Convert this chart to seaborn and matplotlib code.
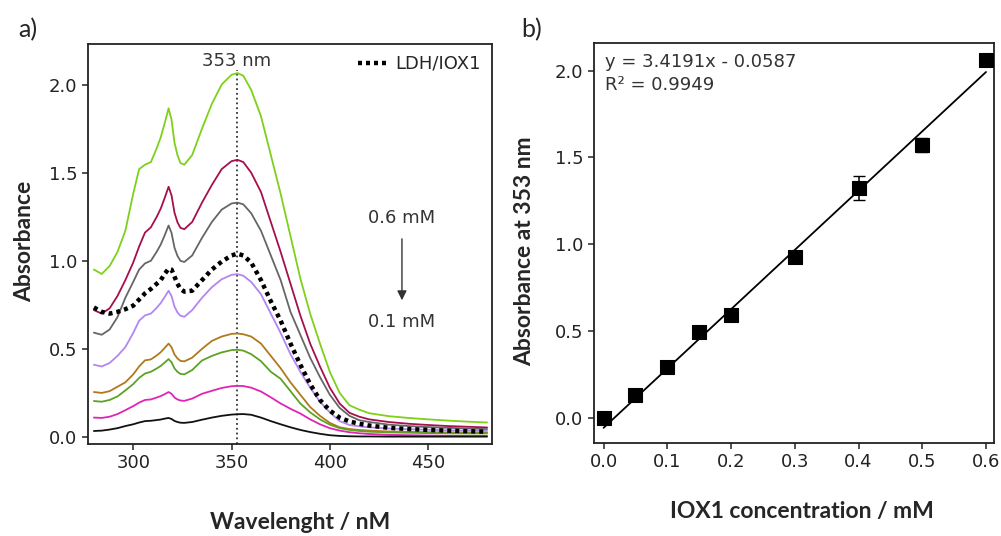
import numpy as np
import seaborn as sns
import matplotlib.pyplot as plt

sns.set_style("ticks")
plt.rcParams['font.family'] = ['DejaVu Sans']

# Spectra data (a)
wavelength = [280, 284, 288, 292, 296, 300, 303, 306, 309,
              312, 314, 316, 318, 319.5, 321, 322.5, 324, 326,
              330, 335, 340, 345, 350, 353, 356, 360, 365, 370, 375, 380, 385, 390, 395,
              400, 405, 410, 415, 420, 430, 440, 450, 460, 470, 480]

abs_060 = [0.95, 0.925, 0.97, 1.05, 1.17, 1.38, 1.52, 1.545, 1.56,
           1.64, 1.70, 1.78, 1.865, 1.80, 1.67, 1.60, 1.555, 1.545,
           1.60, 1.75, 1.89, 2.00, 2.055, 2.065, 2.05, 1.97, 1.82, 1.60, 1.38, 1.14, 0.90, 0.70, 0.53,
           0.37, 0.25, 0.18, 0.155, 0.135, 0.118, 0.108, 0.10, 0.093, 0.087, 0.082]
abs_050 = [0.72, 0.70, 0.73, 0.80, 0.89, 0.99, 1.08, 1.16, 1.19,
           1.25, 1.296, 1.356, 1.42, 1.371, 1.273, 1.219, 1.187, 1.179,
           1.22, 1.33, 1.43, 1.52, 1.565, 1.573, 1.56, 1.50, 1.39, 1.22, 1.05, 0.87, 0.69, 0.53, 0.40,
           0.28, 0.19, 0.137, 0.115, 0.10, 0.085, 0.075, 0.068, 0.062, 0.058, 0.054]
abs_040 = [0.592, 0.58, 0.61, 0.68, 0.79, 0.88, 0.95, 0.985, 1.00,
           1.052, 1.092, 1.144, 1.20, 1.158, 1.074, 1.028, 1.0, 0.993,
           1.03, 1.13, 1.22, 1.29, 1.325, 1.33, 1.32, 1.27, 1.17, 1.03, 0.89, 0.71, 0.58, 0.45, 0.34,
           0.24, 0.165, 0.12, 0.095, 0.085, 0.07, 0.062, 0.056, 0.052, 0.048, 0.045]
abs_030 = [0.41, 0.40, 0.42, 0.46, 0.51, 0.59, 0.66, 0.69, 0.70,
           0.734, 0.76, 0.794, 0.83, 0.80, 0.74, 0.707, 0.688, 0.682,
           0.72, 0.79, 0.85, 0.895, 0.92, 0.924, 0.915, 0.88, 0.81, 0.70, 0.59, 0.47, 0.37, 0.28, 0.20,
           0.14, 0.09, 0.068, 0.06, 0.055, 0.048, 0.044, 0.041, 0.038, 0.036, 0.035]
abs_020 = [0.255, 0.25, 0.26, 0.285, 0.31, 0.355, 0.40, 0.435, 0.44,
           0.463, 0.481, 0.505, 0.53, 0.509, 0.468, 0.446, 0.432, 0.429,
           0.45, 0.50, 0.545, 0.57, 0.585, 0.587, 0.583, 0.57, 0.53, 0.46, 0.39, 0.31, 0.24, 0.17, 0.12,
           0.08, 0.055, 0.045, 0.04, 0.036, 0.031, 0.029, 0.027, 0.026, 0.025, 0.025]
abs_015 = [0.204, 0.20, 0.21, 0.23, 0.264, 0.30, 0.335, 0.36, 0.37,
           0.389, 0.403, 0.422, 0.442, 0.424, 0.389, 0.37, 0.358, 0.355,
           0.38, 0.434, 0.46, 0.48, 0.493, 0.495, 0.49, 0.47, 0.43, 0.37, 0.33, 0.26, 0.19, 0.14, 0.10,
           0.07, 0.05, 0.04, 0.034, 0.03, 0.026, 0.024, 0.022, 0.021, 0.02, 0.02]
abs_010 = [0.11, 0.108, 0.115, 0.13, 0.152, 0.175, 0.195, 0.21, 0.213,
           0.224, 0.232, 0.243, 0.255, 0.245, 0.224, 0.213, 0.207, 0.205,
           0.218, 0.245, 0.262, 0.278, 0.288, 0.29, 0.289, 0.28, 0.258, 0.225, 0.19, 0.16, 0.133, 0.10, 0.072,
           0.05, 0.036, 0.027, 0.021, 0.017, 0.012, 0.01, 0.008, 0.007, 0.006, 0.006]
abs_005 = [0.034, 0.036, 0.042, 0.05, 0.062, 0.072, 0.082, 0.09, 0.092,
           0.096, 0.099, 0.104, 0.108, 0.102, 0.091, 0.085, 0.081, 0.08,
           0.085, 0.098, 0.11, 0.12, 0.127, 0.129, 0.13, 0.126, 0.11, 0.09, 0.072, 0.055, 0.04, 0.028, 0.018,
           0.01, 0.006, 0.004, 0.003, 0.003, 0.002, 0.002, 0.002, 0.002, 0.002, 0.002]
abs_ldh = [0.735, 0.71, 0.70, 0.71, 0.725, 0.745, 0.78, 0.815, 0.84,
           0.87, 0.89, 0.925, 0.955, 0.95, 0.91, 0.87, 0.84, 0.825,
           0.83, 0.89, 0.95, 0.995, 1.03, 1.04, 1.03, 0.99, 0.89, 0.77, 0.66, 0.53, 0.41, 0.30, 0.21,
           0.15, 0.11, 0.088, 0.075, 0.065, 0.052, 0.045, 0.04, 0.036, 0.033, 0.03]

spectra = [abs_060, abs_050, abs_040, abs_030, abs_020, abs_015, abs_010, abs_005]
colors = ["#7ED01A", "#A5104C", "#666666", "#B287F0", "#B07A1C", "#5CA324", "#E024B4", "#111111"]
peak_wl = 353

# Calibration data (b)
conc = [0.0, 0.05, 0.1, 0.15, 0.2, 0.3, 0.4, 0.5, 0.6]
absorb = [0.0, 0.13, 0.29, 0.495, 0.592, 0.928, 1.326, 1.572, 2.06]
absorb_err = [0.01, 0.01, 0.01, 0.01, 0.01, 0.015, 0.07, 0.04, 0.03]
slope, intercept = 3.4191, -0.0587

fig = plt.figure(figsize=(10.01, 5.36), dpi=100)
ax1 = fig.add_axes([0.0879, 0.1716, 0.4036, 0.7463])
ax2 = fig.add_axes([0.5934, 0.1735, 0.3996, 0.7463])

label_font = ["Lato", "DejaVu Sans"]

# Panel a
for vals, c in zip(spectra, colors):
    sns.lineplot(x=wavelength, y=vals, color=c, lw=1.3, ax=ax1)
sns.lineplot(x=wavelength, y=abs_ldh, color="black", lw=3.2, ax=ax1,
             label="LDH/IOX1", linestyle=(0, (0.9, 0.9)))
ax1.vlines(peak_wl, -0.04, 2.08, colors="#333333", linestyles=":", lw=1.3, zorder=1)
ax1.text(peak_wl - 0.5, 2.135, "353 nm", ha="center", va="center", fontsize=13, color="#333333")
ax1.text(436.5, 1.24, "0.6 mM", ha="center", va="center", fontsize=13, color="#333333")
ax1.text(436.5, 0.65, "0.1 mM", ha="center", va="center", fontsize=13, color="#333333")
ax1.annotate("", xy=(436.7, 0.76), xytext=(436.7, 1.14),
             arrowprops=dict(arrowstyle="-|>", color="#333333", lw=1, mutation_scale=14))
ax1.set_xlim(277, 482.5)
ax1.set_ylim(-0.04, 2.23)
ax1.set_xticks([300, 350, 400, 450])
ax1.set_yticks([0.0, 0.5, 1.0, 1.5, 2.0])
ax1.set_yticklabels(["0.0", "0.5", "1.0", "1.5", "2.0"])
leg = ax1.legend(loc="upper right", frameon=False, fontsize=13, handlelength=1.7,
                 handletextpad=0.4, borderaxespad=0.2)
ax1.set_xlabel("Wavelenght / nM", fontsize=16.5, fontweight="bold", family=label_font)
ax1.set_ylabel("Absorbance", fontsize=16.5, fontweight="bold", family=label_font)
ax1.xaxis.set_label_coords(0.525, -0.195)
ax1.xaxis.label.set_va("center")
ax1.yaxis.set_label_coords(-0.158, 0.5075)
ax1.yaxis.label.set_va("center")

# Panel b
ends = np.array([min(conc), max(conc)])
sns.lineplot(x=ends, y=slope * ends + intercept, color="black", lw=1.3, ax=ax2)
ax2.errorbar(conc, absorb, yerr=absorb_err, fmt="none", ecolor="black", capsize=4.5, lw=1.1, zorder=3)
sns.scatterplot(x=conc, y=absorb, marker="s", s=95, color="black", edgecolor="black", zorder=4, ax=ax2)
ax2.text(0.0275, 0.953, "y = 3.4191x - 0.0587", transform=ax2.transAxes, fontsize=13,
         va="center", color="#333333")
ax2.text(0.0275, 0.895, "R\u00b2 = 0.9949", transform=ax2.transAxes, fontsize=13,
         va="center", color="#333333")
ax2.set_xlim(-0.015, 0.6125)
ax2.set_ylim(-0.146, 2.16)
ax2.set_xticks([0.0, 0.1, 0.2, 0.3, 0.4, 0.5, 0.6])
ax2.set_xticklabels(["0.0", "0.1", "0.2", "0.3", "0.4", "0.5", "0.6"])
ax2.set_yticks([0.0, 0.5, 1.0, 1.5, 2.0])
ax2.set_yticklabels(["0.0", "0.5", "1.0", "1.5", "2.0"])
ax2.set_xlabel("IOX1 concentration / mM", fontsize=16.5, fontweight="bold", family=label_font)
ax2.set_ylabel("Absorbance at 353 nm", fontsize=16.5, fontweight="bold", family=label_font)
ax2.xaxis.set_label_coords(0.521, -0.172)
ax2.xaxis.label.set_va("center")
ax2.yaxis.set_label_coords(-0.1725, 0.479)
ax2.yaxis.label.set_va("center")

for ax in (ax1, ax2):
    for sp in ax.spines.values():
        sp.set_visible(True)
        sp.set_linewidth(1.3)
        sp.set_color("#222222")
    ax.tick_params(direction="out", length=4.5, width=1.1, labelsize=13, pad=3,
                   colors="#222222", top=False, right=False)

fig.text(0.018, 0.944, "a)", fontsize=18, family=label_font, va="center")
fig.text(0.521, 0.944, "b)", fontsize=18, family=label_font, va="center")

fig.savefig("out.png", dpi=100)
